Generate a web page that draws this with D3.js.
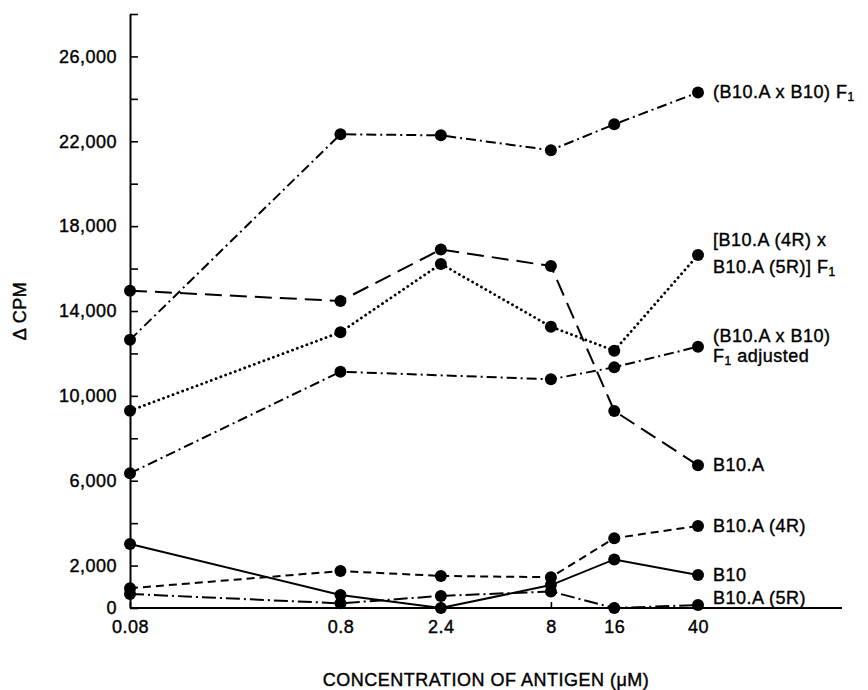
<!DOCTYPE html>
<html>
<head>
<meta charset="utf-8">
<script src="https://cdn.jsdelivr.net/npm/d3@7"></script>
<style>
  body { margin: 0; background: #fff; }
  text { font-family: "Liberation Sans", Arial, Helvetica, sans-serif; font-size: 18px; letter-spacing: 0.5px; fill: #000; stroke: #000; stroke-width: 0.4px; }
</style>
</head>
<body>
<div id="chart"></div>
<script>
// concentrations (µM) and ΔCPM readings per strain
const concentrations = [0.08, 0.8, 2.4, 8, 16, 40];
const yTicks = d3.range(0, 28001, 2000);
const yLabels = [0, 2000, 6000, 10000, 14000, 18000, 22000, 26000];

const f1 = [12640, 22330, 22280, 21580, 22800, 24300];
const f1Cross = [9300, 13000, 16220, 13260, 12130, 16640];
const f1Adjusted = [6350, 11140, null, 10780, 11350, 12320];
const b10a = [14960, 14470, 16900, 16120, 9290, 6730];
const b10a4r = [930, 1740, 1510, 1450, 3290, 3870];
const b10 = [3020, 610, 0, 1080, 2290, 1560];
const b10a5r = [660, 220, 570, 780, 0, 140];

const series = [
  { name: ["(B10.A x B10) F|1"], values: f1, dash: "10,4,2,4", offs: [0] },
  { name: ["[B10.A (4R) x", "B10.A (5R)] F|1"], values: f1Cross, dash: "0.1,5", cap: "round", width: 2.8, offs: [-15, 12] },
  { name: ["(B10.A x B10)", "F|1| adjusted"], values: f1Adjusted, dash: "10,4,2,4", offs: [-11, 9] },
  { name: ["B10.A"], values: b10a, dash: "17,8", offs: [0] },
  { name: ["B10.A (4R)"], values: b10a4r, dash: "8,5", offs: [0] },
  { name: ["B10"], values: b10, dash: null, offs: [0] },
  { name: ["B10.A (5R)"], values: b10a5r, dash: "14,4,2,4", offs: [-7] }
];

const width = 868, height = 690;
const svg = d3.select("#chart").append("svg")
  .attr("width", width)
  .attr("height", height);

const x = d3.scaleLog().domain([0.08, 40]).range([130, 698]);
const y = d3.scaleLinear().domain([0, 28000]).range([608, 14]);

// y axis: ticks pointing inward, labels only on some
const yAxis = svg.append("g")
  .attr("transform", `translate(${x(0.08)},0)`)
  .call(d3.axisLeft(y).tickValues(yTicks).tickSize(-8).tickSizeOuter(0)
    .tickFormat(d => yLabels.includes(d) ? d3.format(",")(d) : ""));
yAxis.select(".domain").attr("stroke-width", 2);
yAxis.selectAll(".tick line").attr("stroke-width", 1.6);
yAxis.selectAll(".tick text").attr("x", -13).style("font-size", "18px");

// x axis, extends past the last concentration
svg.append("line")
  .attr("x1", x(0.08)).attr("x2", 842)
  .attr("y1", y(0)).attr("y2", y(0))
  .attr("stroke", "#000").attr("stroke-width", 2);

const xAxis = svg.append("g")
  .attr("transform", `translate(0,${y(0)})`)
  .call(d3.axisBottom(x).tickValues(concentrations).tickSize(-6).tickSizeOuter(0)
    .tickFormat(d => String(d)));
xAxis.select(".domain").remove();
xAxis.selectAll(".tick line").attr("stroke-width", 1.6);
xAxis.selectAll(".tick text").attr("y", 12).attr("dy", "0.71em").style("font-size", "18px");

svg.append("text")
  .attr("x", 486).attr("y", 680)
  .attr("text-anchor", "middle")
  .attr("dominant-baseline", "central")
  .text("CONCENTRATION OF ANTIGEN (\u03bcM)");

svg.append("text")
  .attr("transform", `translate(20,311) rotate(-90)`)
  .attr("text-anchor", "middle")
  .attr("dominant-baseline", "central")
  .text("\u0394 CPM");

const line = d3.line()
  .x(d => x(d.c))
  .y(d => y(d.v));

series.forEach(s => {
  const pts = concentrations.map((c, i) => ({ c, v: s.values[i] })).filter(d => d.v !== null);
  const g = svg.append("g");

  g.append("path")
    .datum(pts)
    .attr("d", line)
    .attr("fill", "none")
    .attr("stroke", "#000")
    .attr("stroke-width", s.width || 2)
    .attr("stroke-linecap", s.cap || "butt")
    .attr("stroke-dasharray", s.dash);

  g.selectAll("circle")
    .data(pts)
    .join("circle")
    .attr("cx", d => x(d.c))
    .attr("cy", d => y(d.v))
    .attr("r", 6)
    .attr("fill", "#000");

  const last = pts[pts.length - 1];
  s.name.forEach((ln, i) => {
    const t = g.append("text")
      .attr("x", x(last.c) + 15)
      .attr("y", y(last.v) + s.offs[i])
      .attr("dominant-baseline", "central");
    ln.split("|").forEach((part, j) => {
      if (j % 2 === 1) {
        t.append("tspan").attr("dy", 5).style("font-size", "12px").text(part);
      } else {
        t.append("tspan").attr("dy", j === 0 ? 0 : -5).text(part);
      }
    });
  });
});
</script>
</body>
</html>
